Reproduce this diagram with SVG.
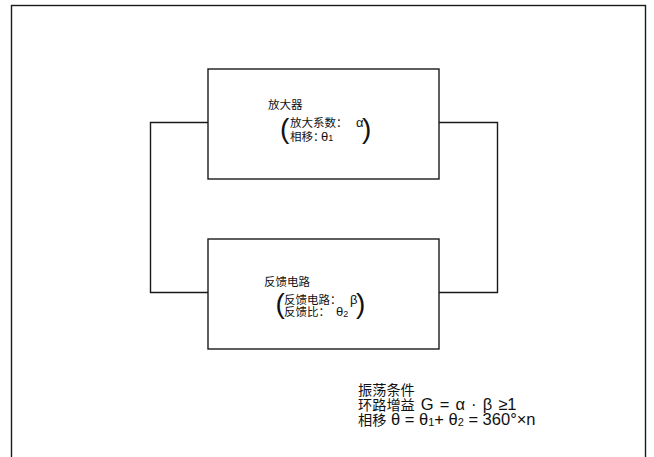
<svg xmlns="http://www.w3.org/2000/svg" width="654" height="457" viewBox="0 0 654 457">
<style>
.box{fill:#fff;stroke:#1a1a1a;stroke-width:1.4}
.wire{fill:none;stroke:#1a1a1a;stroke-width:1.4}
text{font-family:"Liberation Sans","Noto Sans CJK SC",sans-serif;fill:#111}
.s{font-size:11.5px}
.l{font-size:13px}
.sub{font-size:9px}
.p{font-size:28px}
.b{font-size:14.2px}
.bl{font-size:16.5px}
.bs{font-size:11px}
</style>
<rect x="0" y="0" width="654" height="457" fill="#fff"/>
<rect x="11.5" y="5.5" width="634" height="470" fill="none" stroke="#1a1a1a" stroke-width="1.4"/>
<g id="connectors">
<path class="wire" d="M208,122.5 H150.5 V292.5 H208"/>
<path class="wire" d="M439,122.5 H497.5 V292.5 H439"/>
</g>
<g id="amplifier">
<rect class="box" x="208" y="69" width="231" height="110"/>
<text class="s" x="268" y="109">放大器</text>
<text class="p" x="280" y="137.5">(</text>
<text class="s" x="290" y="126.5">放大系数：<tspan class="l" x="356">α</tspan></text>
<text class="s" x="290" y="140.5">相移：<tspan class="l" x="321">θ</tspan><tspan class="sub" dy="0.5">1</tspan></text>
<text class="p" x="362" y="137.5">)</text>
</g>
<g id="feedback">
<rect class="box" x="208" y="239" width="231" height="110"/>
<text class="s" x="264" y="285.5">反馈电路</text>
<text class="p" x="275.5" y="313" font-size="26">(</text>
<text class="s" x="284" y="304">反馈电路：<tspan class="l" x="350">β</tspan></text>
<text class="s" x="284" y="316">反馈比：<tspan class="l" x="336">θ</tspan><tspan class="sub" dy="0.5">2</tspan></text>
<text class="p" x="356" y="313" font-size="26">)</text>
</g>
<g id="conditions">
<text class="b" x="358" y="395">振荡条件</text>
<text class="b" x="358" y="410" xml:space="preserve">环路增益<tspan class="bl" word-spacing="1.5"> G = α · β ≥1</tspan></text>
<text class="b" x="358" y="425" xml:space="preserve">相移<tspan class="bl"> θ = θ</tspan><tspan class="bs" dy="1">1</tspan><tspan class="bl" dy="-1">+ θ</tspan><tspan class="bs" dy="1">2</tspan><tspan class="bl" dy="-1"> = 360°×n</tspan></text>
</g>
</svg>
